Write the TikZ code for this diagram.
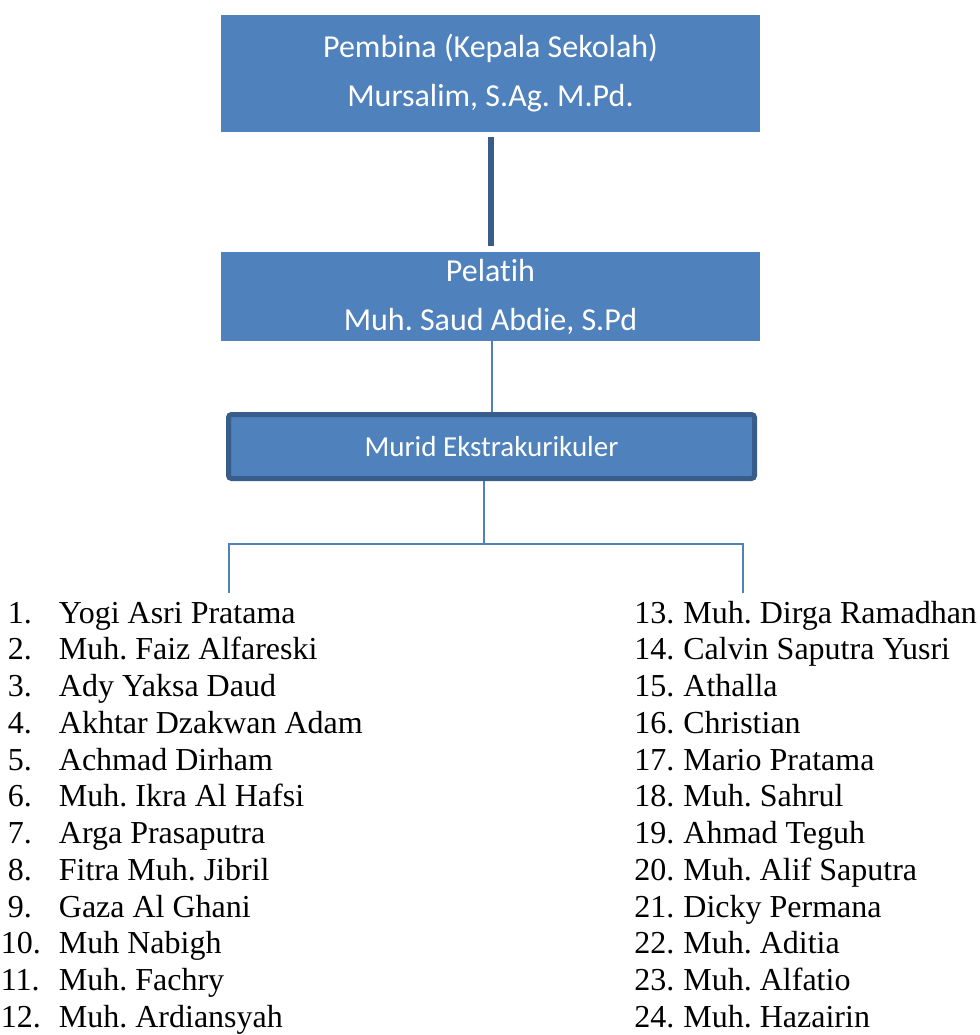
\documentclass[tikz,border=0pt]{standalone}
\usepackage{fontspec}
\setmainfont{Liberation Serif}
\newfontfamily\calibri[Ligatures=NoCommon]{Carlito}
\frenchspacing
\definecolor{officeblue}{HTML}{4F81BD}
\definecolor{officedark}{HTML}{385D8A}
\begin{document}
\begin{tikzpicture}[x=.5pt,y=-.5pt,line cap=butt,
  unit/.style={fill=officeblue,text=white,align=center,inner sep=0pt,
    minimum width=269.5pt,font=\calibri\fontsize{16}{24.5}\selectfont},
  link/.style={draw=officeblue,line width=1pt},
  entry/.style={anchor=base west,inner sep=0pt,font=\fontsize{16}{18}\selectfont}]
  \useasboundingbox (0,0) rectangle (980,1035);
  \node[unit,minimum height=58.5pt] (pembina) at (490.5,73.5)
    {Pembina (Kepala Sekolah)\\Mursalim, S.Ag. M.Pd.};
  \node[unit,minimum height=44.5pt] (pelatih) at (490.5,296.5)
    {Pelatih\\Muh. Saud Abdie, S.Pd};
  \node[unit,draw=officedark,line width=2.5pt,rounded corners=1.5pt,
    minimum width=263pt,minimum height=32pt,
    font=\calibri\fontsize{14.5}{17}\selectfont] (murid) at (491.5,446.5)
    {Murid Ekstrakurikuler};
  \draw[draw=officedark,line width=3pt,shorten <=2.5pt,shorten >=3pt]
    (pembina.south) -- (pelatih.north);
  \draw[link] (pelatih.south -| murid.north) -- (murid.north);
  % branch to the two columns
  \coordinate (fork) at (484,544);
  \coordinate (leftend) at (229,593);
  \coordinate (rightend) at (743,593);
  \draw[link] (murid.south -| fork) -- (fork);
  \draw[link] (leftend) -- (leftend |- fork) -- (rightend |- fork) -- (rightend);
  \foreach \num/\name [count=\row from 0] in {
    1/Yogi Asri Pratama,2/Muh. Faiz Alfareski,3/Ady Yaksa Daud,
    4/Akhtar Dzakwan Adam,5/Achmad Dirham,6/Muh. Ikra Al Hafsi,
    7/Arga Prasaputra,8/Fitra Muh. Jibril,9/Gaza Al Ghani,
    10/Muh Nabigh,11/Muh. Fachry,12/Muh. Ardiansyah,
    13/Muh. Dirga Ramadhan,14/Calvin Saputra Yusri,15/Athalla,
    16/Christian,17/Mario Pratama,18/Muh. Sahrul,
    19/Ahmad Teguh,20/Muh. Alif Saputra,21/Dicky Permana,
    22/Muh. Aditia,23/Muh. Alfatio,24/Muh. Hazairin} {
    \pgfmathsetmacro\rowpos{623+36.75*mod(\row,12)}
    \pgfmathsetmacro\numx{\num<10 ? 7.5 : (\num<13 ? 0.5 : 634)}
    \pgfmathsetmacro\namex{\num<13 ? 58.5 : 683}
    \node[entry] (idx\num) at (\numx,\rowpos) {\num.};
    \node[entry] (student\num) at (\namex,\rowpos) {\name};
  }
\end{tikzpicture}
\end{document}
